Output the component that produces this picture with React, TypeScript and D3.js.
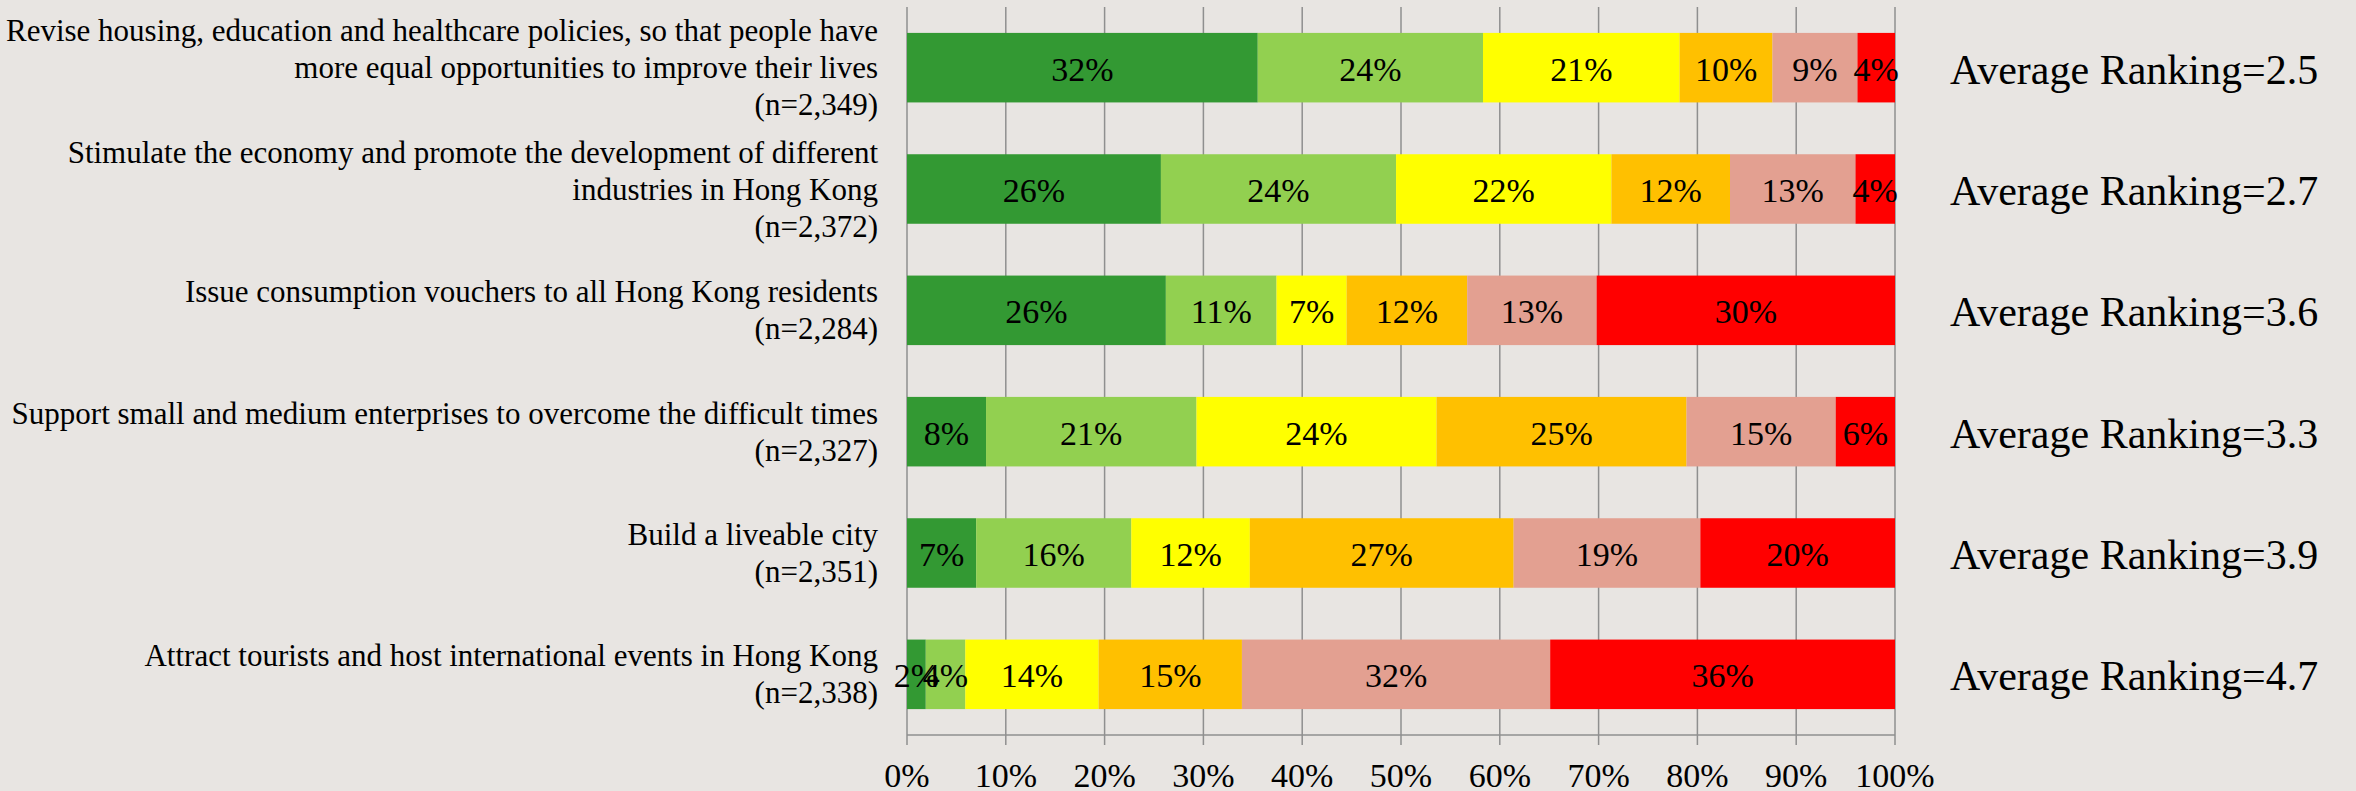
import * as d3 from "d3";

// row labels (one entry per line of text)
const categories: string[][] = [
  [
    "Revise housing, education and healthcare policies, so that people have",
    "more equal opportunities to improve their lives",
    "(n=2,349)",
  ],
  [
    "Stimulate the economy and promote the development of different",
    "industries in Hong Kong",
    "(n=2,372)",
  ],
  ["Issue consumption vouchers to all Hong Kong residents", "(n=2,284)"],
  ["Support small and medium enterprises to overcome the difficult times", "(n=2,327)"],
  ["Build a liveable city", "(n=2,351)"],
  ["Attract tourists and host international events in Hong Kong", "(n=2,338)"],
];

// segment widths as drawn (% of bar), rank 1 .. rank 6
const rank1 = [35.5, 25.7, 26.2, 8.0, 7.0, 1.9];
const rank2 = [22.8, 23.8, 11.2, 21.3, 15.7, 4.0];
const rank3 = [19.9, 21.8, 7.1, 24.3, 12.0, 13.5];
const rank4 = [9.4, 12.0, 12.2, 25.3, 26.7, 14.5];
const rank5 = [8.6, 12.7, 13.1, 15.1, 18.9, 31.2];
const rank6 = [3.8, 4.0, 30.2, 6.0, 19.7, 34.9];

// data labels printed on the segments
const label1 = ["32%", "26%", "26%", "8%", "7%", "2%"];
const label2 = ["24%", "24%", "11%", "21%", "16%", "4%"];
const label3 = ["21%", "22%", "7%", "24%", "12%", "14%"];
const label4 = ["10%", "12%", "12%", "25%", "27%", "15%"];
const label5 = ["9%", "13%", "13%", "15%", "19%", "32%"];
const label6 = ["4%", "4%", "30%", "6%", "20%", "36%"];

const averages = ["2.5", "2.7", "3.6", "3.3", "3.9", "4.7"];

const xTicks = [0, 10, 20, 30, 40, 50, 60, 70, 80, 90, 100];
const xTickLabels = ["0%", "10%", "20%", "30%", "40%", "50%", "60%", "70%", "80%", "90%", "100%"];

const colors = ["#339933", "#92d050", "#ffff00", "#ffc000", "#e3a091", "#ff0000"];

const FONT = "'Liberation Serif', 'Times New Roman', serif";

export default function App() {
  const width = 2356;
  const height = 791;
  const plot = { left: 907, right: 1895, top: 7, bottom: 735 };

  const keys = ["r1", "r2", "r3", "r4", "r5", "r6"];
  const series = [rank1, rank2, rank3, rank4, rank5, rank6];
  const labels = [label1, label2, label3, label4, label5, label6];

  const table = categories.map((_, i) => {
    const row: Record<string, number> = { idx: i };
    keys.forEach((k, j) => (row[k] = series[j][i]));
    return row;
  });
  const stacked = d3.stack<Record<string, number>>().keys(keys)(table);

  const x = d3.scaleLinear().domain([0, 100]).range([plot.left, plot.right]);
  const y = d3
    .scaleBand<number>()
    .domain(categories.map((_, i) => i))
    .range([plot.top, plot.bottom])
    .paddingInner(0.427)
    .paddingOuter(0.2135);

  const mid = (i: number) => (y(i) as number) + y.bandwidth() / 2;
  const lineH = 37;
  const grid = "#8f8f8f";

  return (
    <div style={{ position: "absolute", left: 0, top: 0 }}>
      <svg width={width} height={height} style={{ display: "block" }} fontFamily={FONT}>
        <rect x={0} y={0} width={width} height={height} fill="#e8e5e2" />

        {/* vertical gridlines + tick marks */}
        {xTicks.map((t) => (
          <line
            key={"g" + t}
            x1={x(t)}
            x2={x(t)}
            y1={plot.top}
            y2={plot.bottom + 10}
            stroke={grid}
            strokeWidth={1.5}
          />
        ))}
        <line x1={plot.left} x2={plot.right} y1={plot.bottom} y2={plot.bottom} stroke={grid} strokeWidth={1.5} />

        {/* stacked bars */}
        {stacked.map((s, j) =>
          s.map((d, i) => (
            <rect
              key={`b${j}-${i}`}
              x={x(d[0])}
              y={y(i)}
              width={Math.max(0, x(d[1]) - x(d[0]))}
              height={y.bandwidth()}
              fill={colors[j]}
            />
          ))
        )}

        {/* segment labels */}
        {stacked.map((s, j) =>
          s.map((d, i) => (
            <text
              key={`l${j}-${i}`}
              x={(x(d[0]) + x(d[1])) / 2}
              y={mid(i) + 13}
              textAnchor="middle"
              fontSize={34}
              fill="#000"
            >
              {labels[j][i]}
            </text>
          ))
        )}

        {/* category labels */}
        {categories.map((lines, i) => (
          <text key={"c" + i} textAnchor="end" fontSize={31} fill="#000">
            {lines.map((ln, k) => (
              <tspan key={k} x={878} y={mid(i) + 10.5 + (k - (lines.length - 1) / 2) * lineH}>
                {ln}
              </tspan>
            ))}
          </text>
        ))}

        {/* average ranking */}
        {averages.map((a, i) => (
          <text key={"a" + i} x={1950} y={mid(i) + 16} fontSize={42} fill="#000">
            {`Average Ranking=${a}`}
          </text>
        ))}

        {/* x tick labels */}
        {xTicks.map((t, k) => (
          <text key={"t" + t} x={x(t)} y={787} textAnchor="middle" fontSize={34} fill="#000">
            {xTickLabels[k]}
          </text>
        ))}
      </svg>
    </div>
  );
}
